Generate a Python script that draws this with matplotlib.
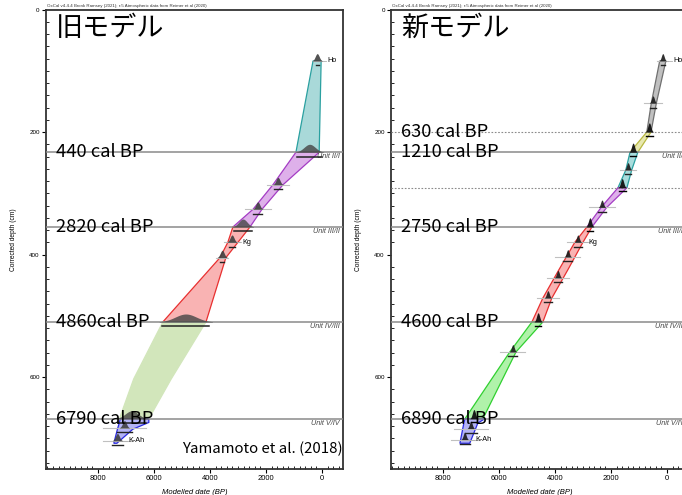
import numpy as np
import matplotlib.pyplot as plt
from matplotlib.ticker import MultipleLocator

# 旧モデル: envelope segments (depth cm, older / younger edge in cal BP)
old_depth = [[84, 233], [233, 286, 326, 355], [355, 380, 405, 510],
             [510, 603, 668], [668, 674, 685, 708]]
old_older = [[320, 930], [930, 1750, 2460, 3180], [3180, 3360, 3640, 5680],
             [5680, 6720, 7230], [7200, 7230, 7300, 7430]]
old_younger = [[30, 100], [100, 1390, 2140, 2570], [2570, 3000, 3430, 4140],
               [4140, 5380, 6180], [6180, 6180, 6750, 7320]]
old_bound_depth = [233, 355, 510, 668]
old_bound_age = [440, 2820, 4860, 6790]
old_bound_text = ['440 cal BP', '2820 cal BP', '4860cal BP', '6790 cal BP']
old_samp_depth = [84, 286, 326, 380, 405, 683, 704]
old_samp_age = [170, 1570, 2290, 3210, 3560, 7050, 7300]
old_samp_err = [150, 380, 460, 280, 220, 760, 520]

# 新モデル
new_depth = [[84, 153, 200], [200, 233], [233, 262, 291], [291, 323, 355],
             [355, 380, 425, 471, 510], [510, 559, 668], [668, 675, 708]]
new_older = [[260, 560, 720], [720, 1320], [1320, 1470, 1750], [1750, 2350, 2860],
             [2860, 3290, 3860, 4430, 4820], [4820, 5610, 7210], [7210, 7250, 7390]]
new_younger = [[40, 380, 570], [570, 1040], [1040, 1260, 1430], [1430, 2150, 2680],
               [2680, 3000, 3540, 4110, 4430], [4430, 5390, 6570], [6500, 6750, 7040]]
new_bound_depth = [200, 233, 291, 355, 510, 668]
new_bound_age = [630, 1210, 1600, 2750, 4600, 6890]
new_bound_text = ['630 cal BP', '1210 cal BP', '', '2750 cal BP', '4600 cal BP', '6890 cal BP']
new_samp_depth = [84, 153, 262, 323, 380, 404, 438, 471, 559, 684, 702]
new_samp_age = [150, 500, 1390, 2320, 3180, 3540, 3890, 4250, 5500, 7000, 7220]
new_samp_err = [200, 320, 300, 450, 400, 450, 400, 400, 450, 600, 500]

unit_depth = [233, 355, 510, 668]
unit_text = ['Unit II/I', 'Unit III/II', 'Unit IV/III', 'Unit V/IV']

old_fill = ['#a9d9d9', '#deb0ea', '#f9b3b3', '#d2e6bb', '#b3b3f5']
old_edge = ['#2aa0a0', '#a43cc4', '#e83030', '#d2e6bb', '#2a2ae0']
new_fill = ['#c0c0c0', '#e8e8b0', '#a9dcdc', '#deb0ea', '#f9b3b3', '#b0f2aa', '#b3b3f5']
new_edge = ['#707070', '#b8b840', '#2aa0a0', '#a43cc4', '#e83030', '#30d030', '#2a2ae0']

W, H = 682, 495
fig = plt.figure(figsize=(W / 100, H / 100), dpi=100)
ax1 = fig.add_axes([46 / W, (H - 469) / H, 297 / W, 459.5 / H])
ax2 = fig.add_axes([391 / W, (H - 469) / H, 297 / W, 459.5 / H])

jp = ['Noto Sans CJK JP', 'DejaVu Sans']
small = 'Liberation Sans'


def hump(ax, mu, z, sig, h, color, alpha=0.85):
    x = np.linspace(mu - 2.5 * sig, mu + 2.5 * sig, 60)
    y = z - h * np.exp(-0.5 * ((x - mu) / sig) ** 2)
    ax.fill_between(x, y, z, color=color, alpha=alpha, lw=0, zorder=4)


def draw(ax, depth, older, younger, fills, edges, bd, ba, bt, sd, sa, se,
         dotted, sharp, labels, title):
    ax.set_xlim(9850, -750)
    ax.set_ylim(750, 0)
    for d, o, y, fc, ec in zip(depth, older, younger, fills, edges):
        xs = list(o) + list(y)[::-1]
        ys = list(d) + list(d)[::-1]
        ax.fill(xs, ys, facecolor=fc, edgecolor=ec, lw=0.9, zorder=2)
    for z in unit_depth:
        ax.axhline(z, color='#8a8a8a', lw=1.1, zorder=3)
    for z in dotted:
        ax.axhline(z, color='#8a8a8a', lw=0.8, ls=(0, (1.5, 1.5)), zorder=3)
    for z, t in zip(unit_depth, unit_text):
        ax.text(-640, z + 7, t, ha='right', va='center', fontsize=5.2,
                style='italic', color='#444444', family=small, zorder=5)
    # boundary distributions
    for z, a in zip(bd, ba):
        if sharp:
            hump(ax, a, z, 55, 15, '#111111', 0.95)
            ax.plot([a - 120, a + 120], [z + 6, z + 6], color='k', lw=1.0, zorder=5)
        else:
            sig = {440: 200, 2820: 150, 4860: 380, 6790: 230}[a]
            hump(ax, a, z, sig, 13, '#454545', 0.8)
            ax.plot([a - 2.2 * sig, a + 2.2 * sig], [z + 7, z + 7], color='#222222',
                    lw=1.1, zorder=5)
    # dated samples
    for z, a, e in zip(sd, sa, se):
        ax.plot([a - e, a + e], [z, z], color='#c0c0c0', lw=0.8, zorder=3)
        hump(ax, a, z, 50 if sharp else 70, 12, '#1a1a1a' if sharp else '#404040', 0.9)
        ax.plot([a - 0.35 * e, a + 0.35 * e], [z + 7, z + 7], color='#222222',
                lw=1.0, zorder=5)
    for a, z, t in labels:
        ax.plot([a - 150, a - 330], [z, z], color='#b0b0b0', lw=0.6, zorder=3)
        ax.text(a - 380, z, t, fontsize=5.2, va='center', family=small, zorder=5)
    for z, t in zip(bd, bt):
        if t:
            ax.text(9500, z, t, fontsize=13.2, va='center', family=jp, zorder=6)
    ax.text(9500, 9, title, fontsize=19.5, va='top', family=jp, zorder=6)

    ax.text(0.005, 1.003, 'OxCal v4.4.4 Bronk Ramsey (2021); r:5 Atmospheric data '
            'from Reimer et al (2020)', transform=ax.transAxes, fontsize=3.2,
            va='bottom', family=small, color='#333333')
    ax.set_xticks([8000, 6000, 4000, 2000, 0])
    ax.xaxis.set_minor_locator(MultipleLocator(200))
    ax.yaxis.set_major_locator(MultipleLocator(200))
    ax.yaxis.set_minor_locator(MultipleLocator(20))
    ax.tick_params(which='major', direction='out', length=3, width=0.8, pad=1.5)
    ax.tick_params(which='minor', direction='in', length=2, width=0.6)
    ax.tick_params(axis='x', labelsize=5.5)
    ax.tick_params(axis='y', labelsize=4.5)
    for lab in ax.get_xticklabels() + ax.get_yticklabels():
        lab.set_family(small)
    for s in ax.spines.values():
        s.set_linewidth(1.3)
        s.set_color('#333333')
    ax.set_xlabel('Modelled date (BP)', fontsize=5.5, style='italic', family=small,
                  labelpad=5)
    ax.set_ylabel('Corrected depth (cm)', fontsize=4.8, family=small, labelpad=9)


draw(ax1, old_depth, old_older, old_younger, old_fill, old_edge,
     old_bound_depth, old_bound_age, old_bound_text,
     old_samp_depth, old_samp_age, old_samp_err, [], False,
     [(old_samp_age[0], old_samp_depth[0], 'Ho'),
      (old_samp_age[3], old_samp_depth[3], 'Kg'),
      (old_samp_age[6], old_samp_depth[6], 'K-Ah')], '旧モデル')
draw(ax2, new_depth, new_older, new_younger, new_fill, new_edge,
     new_bound_depth, new_bound_age, new_bound_text,
     new_samp_depth, new_samp_age, new_samp_err, [200, 291], True,
     [(new_samp_age[0], new_samp_depth[0], 'Ho'),
      (new_samp_age[4], new_samp_depth[4], 'Kg'),
      (new_samp_age[10], new_samp_depth[10], 'K-Ah')], '新モデル')

ax1.text(5000, 717, 'Yamamoto et al. (2018)', fontsize=10.8, va='center',
         family=jp, zorder=6)

fig.savefig('out.png', dpi=100)
